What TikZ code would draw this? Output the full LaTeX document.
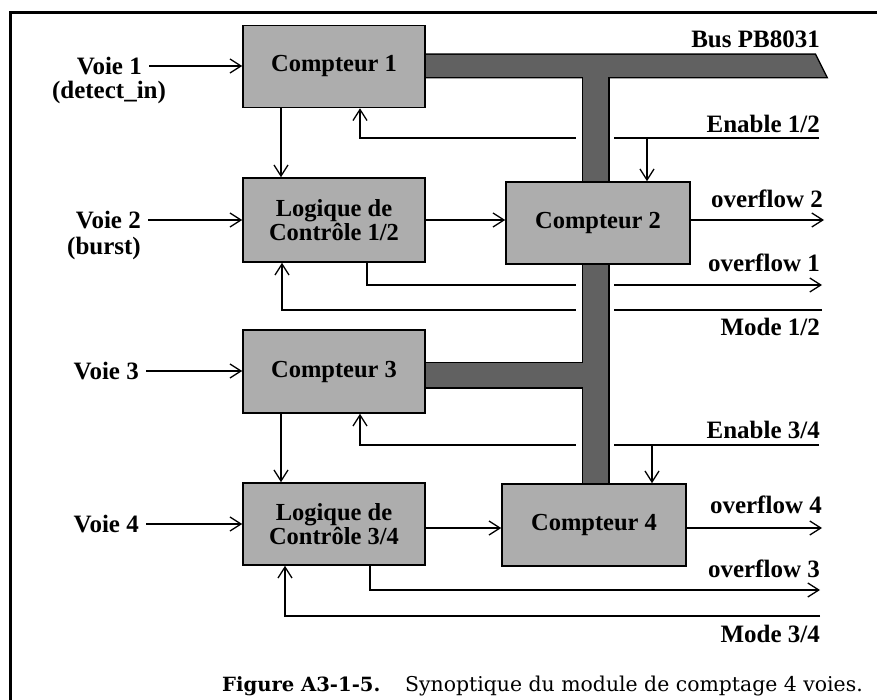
\documentclass[tikz,border=0pt]{standalone}
\usepackage{fontspec}
\setmainfont{Liberation Serif}
\newfontfamily\capfont{DejaVu Serif}
\usetikzlibrary{arrows.meta,backgrounds}
\definecolor{boxgray}{gray}{0.68}
\definecolor{busgray}{gray}{0.38}
\begin{document}
\begin{tikzpicture}[x=1pt,y=-1pt,
  box/.style={draw,line width=1.6pt,fill=boxgray,minimum width=182pt,minimum height=82pt,inner sep=0pt,
    font=\fontsize{24.5}{22}\selectfont\bfseries,align=center},
  lbl/.style={font=\fontsize{25}{25}\selectfont\bfseries,inner sep=0pt},
  arr/.style={line width=1.3pt,-{Straight Barb[length=11pt,width=14pt]}},
  ln/.style={line width=1.3pt},
  bus/.style={fill=busgray}]
\useasboundingbox (0,0) rectangle (877,700);
% frame
\draw[line width=3pt] (10,702) -- (10,13) -- (879,13);
% blocks
\node[box] (c1) at (334,66.5) {Compteur 1};
\node[box,minimum height=84pt] (l12) at (334,220) {Logique de\\Contrôle 1/2};
\node[box,minimum width=184pt] (c2) at (598,223) {Compteur 2};
\node[box,minimum height=83pt] (c3) at (334,371.5) {Compteur 3};
\node[box] (l34) at (334,524) {Logique de\\Contrôle 3/4};
\node[box,minimum width=184pt] (c4) at (594,525) {Compteur 4};
% left labels
\node[lbl,anchor=east] (v1) at (142,66) {Voie 1};
\node[lbl,anchor=base] (v1b) at (109,99) {(detect\_in)};
\node[lbl,anchor=east] (v2) at (141,220) {Voie 2};
\node[lbl,anchor=base] (v2b) at (104,255) {(burst)};
\node[lbl,anchor=east] (v3) at (139,371) {Voie 3};
\node[lbl,anchor=east] (v4) at (139,524) {Voie 4};
% right labels
\node[lbl,anchor=base east] (busl) at (820,48) {Bus PB8031};
\node[lbl,anchor=base east] (en12) at (820,133) {Enable 1/2};
\node[lbl,anchor=base east] (ov2) at (823,208) {overflow 2};
\node[lbl,anchor=base east] (ov1) at (820,272) {overflow 1};
\node[lbl,anchor=base east] (md12) at (820,335) {Mode 1/2};
\node[lbl,anchor=base east] (en34) at (820,438) {Enable 3/4};
\node[lbl,anchor=base east] (ov4) at (822,513) {overflow 4};
\node[lbl,anchor=base east] (ov3) at (820,577) {overflow 3};
\node[lbl,anchor=base east] (md34) at (820,642) {Mode 3/4};
% free ends
\coordinate (e12r) at (819,138);
\coordinate (o2r) at (824,220);
\coordinate (o1r) at (822,285);
\coordinate (m12r) at (822,310);
\coordinate (e34r) at (819,445);
\coordinate (o4r) at (822,528);
\coordinate (o3r) at (820,590);
\coordinate (m34r) at (820,616);
% caption
\node[anchor=base west,inner sep=0pt,font=\capfont\bfseries\fontsize{19.6}{22}\selectfont] (capa) at (222,691) {Figure A3-1-5.};
\node[anchor=base west,inner sep=0pt,font=\capfont\fontsize{20.4}{22}\selectfont] (capb) at (405,691) {Synoptique du module de comptage 4 voies.};
\begin{scope}[on background layer]
  % inputs
  \draw[arr] ([xshift=7pt]v1.east) -- (v1.east -| c1.west);
  \draw[arr] ([xshift=7pt]v2.east) -- (v2.east -| l12.west);
  \draw[arr] ([xshift=7pt]v3.east) -- (v3.east -| c3.west);
  \draw[arr] ([xshift=7pt]v4.east) -- (v4.east -| l34.west);
  % upper half
  \draw[arr] ([xshift=-53pt]c1.south) -- ([xshift=-53pt]l12.north);
  \draw[arr] (e12r) -| ([xshift=26pt]c1.south);
  \draw[arr] ([xshift=49pt]c2.north |- e12r) -- ([xshift=49pt]c2.north);
  \draw[arr] (l12.east) -- (l12.east -| c2.west);
  \draw[arr] (c2.east |- o2r) -- (o2r);
  \draw[arr] ([xshift=33pt]l12.south) |- (o1r);
  \draw[arr] (m12r) -| ([xshift=-52pt]l12.south);
  % lower half
  \draw[arr] ([xshift=-53pt]c3.south) -- ([xshift=-53pt]l34.north);
  \draw[arr] (e34r) -| ([xshift=26pt]c3.south);
  \draw[arr] ([xshift=58pt]c4.north |- e34r) -- ([xshift=58pt]c4.north);
  \draw[arr] (l34.east |- o4r) -- (o4r -| c4.west);
  \draw[arr] (c4.east |- o4r) -- (o4r);
  \draw[arr] ([xshift=36pt]l34.south) |- (o3r);
  \draw[arr] (m34r) -| ([xshift=-49pt]l34.south);
  % white halo round the vertical bus
  \fill[white] (576,80) rectangle (614,482);
  % bus outline then fill
  \draw[line width=3pt] (425,55) -- (815,55) -- (826,77) -- (425,77) -- cycle;
  \draw[line width=3pt] (583,70) rectangle (608,484);
  \draw[line width=3pt] (420,363) rectangle (590,387);
  \fill[bus] (425,55) -- (815,55) -- (826,77) -- (425,77) -- cycle;
  \fill[bus] (583,70) rectangle (608,484);
  \fill[bus] (420,363) rectangle (590,387);
\end{scope}
\end{tikzpicture}
\end{document}
